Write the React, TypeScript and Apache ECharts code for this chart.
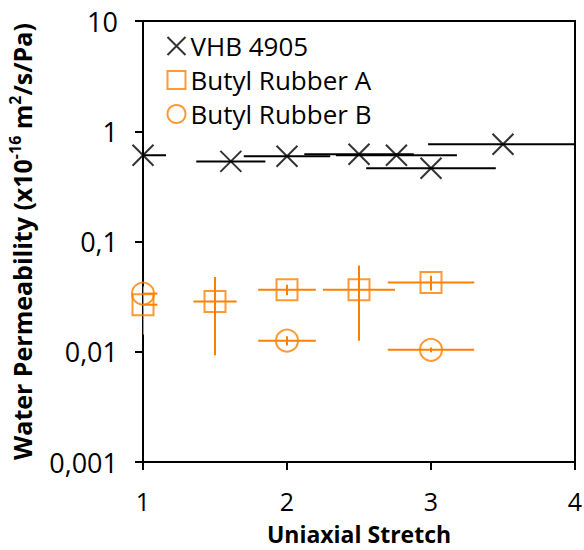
import React, { useEffect, useRef } from "react";
import * as echarts from "echarts";

// VHB 4905
const vhbX = [1, 1.61, 2, 2.5, 2.76, 3, 3.5];
const vhbY = [0.605, 0.533, 0.593, 0.618, 0.605, 0.461, 0.762];
const vhbXErr = [0.16, 0.24, 0.3, 0.38, 0.42, 0.45, 0.52];
const vhbYErr = [0, 0, 0, 0, 0, 0, 0];

// Butyl Rubber A
const butylAX = [1, 1.5, 2, 2.5, 3];
const butylAY = [0.0267, 0.0285, 0.0366, 0.0366, 0.0424];
const butylAXErr = [0.1, 0.15, 0.2, 0.25, 0.3];
const butylAYErr = [0.0124, 0.0192, 0.004, 0.024, 0.0064];

// Butyl Rubber B
const butylBX = [1, 2, 3];
const butylBY = [0.0337, 0.0126, 0.0104];
const butylBXErr = [0.1, 0.2, 0.3];
const butylBYErr = [0.002, 0.0012, 0.0005];

const yTickLabels: Record<string, string> = {
  "10": "10",
  "1": "1",
  "0.1": "0,1",
  "0.01": "0,01",
  "0.001": "0,001",
};

const ORANGE = "#FF8000";
const BLACK = "#000000";
const FONT = "'Open Sans', sans-serif";

function pts(xs: number[], ys: number[]) {
  return xs.map((x, i) => [x, ys[i]]);
}
function errPts(xs: number[], ys: number[], xe: number[], ye: number[]) {
  return xs.map((x, i) => [x, ys[i], xe[i], ye[i]]);
}

function errorSeries(data: number[][], color: string) {
  return {
    type: "custom",
    clip: true,
    silent: true,
    encode: { x: 0, y: 1 },
    data,
    z: 3,
    renderItem: (params: any, api: any) => {
      const x = api.value(0);
      const y = api.value(1);
      const xe = api.value(2);
      const ye = api.value(3);
      const children: any[] = [];
      const p1 = api.coord([x - xe, y]);
      const p2 = api.coord([x + xe, y]);
      children.push({
        type: "line",
        shape: { x1: p1[0], y1: p1[1], x2: p2[0], y2: p2[1] },
        style: { stroke: color, lineWidth: 2 },
      });
      if (ye > 0) {
        const q1 = api.coord([x, y - ye]);
        const q2 = api.coord([x, y + ye]);
        children.push({
          type: "line",
          shape: { x1: q1[0], y1: q1[1], x2: q2[0], y2: q2[1] },
          style: { stroke: color, lineWidth: 2 },
        });
      }
      return { type: "group", children };
    },
  };
}

export default function App() {
  const ref = useRef<HTMLDivElement>(null);
  useEffect(() => {
    document.body.style.margin = "0";
    if (!ref.current) return;
    const chart = echarts.init(ref.current, undefined, { renderer: "svg" });
    chart.setOption({
      animation: false,
      backgroundColor: "#ffffff",
      grid: {
        left: 143,
        right: 9,
        top: 21,
        bottom: 88,
        containLabel: false,
        outerBoundsMode: "none",
        show: true,
        borderColor: BLACK,
        borderWidth: 2,
        backgroundColor: "transparent",
      },
      legend: {
        left: 160,
        top: 28,
        orient: "vertical",
        itemWidth: 18,
        itemHeight: 18,
        itemGap: 8,
        data: ["VHB 4905", "Butyl Rubber A", "Butyl Rubber B"],
        textStyle: { fontFamily: FONT, fontSize: 26, color: BLACK },
      },
      xAxis: {
        type: "value",
        min: 1,
        max: 4,
        interval: 1,
        name: "Uniaxial Stretch",
        nameLocation: "middle",
        nameGap: 61,
        nameTextStyle: { fontFamily: FONT, fontSize: 23, fontWeight: "bold", color: BLACK, lineHeight: 22 },
        axisLine: { show: true, lineStyle: { color: BLACK, width: 2 } },
        axisTick: { show: true, inside: false, length: 8, lineStyle: { color: BLACK, width: 2 } },
        axisLabel: { fontFamily: FONT, fontSize: 25, lineHeight: 25, color: BLACK, margin: 26 },
        splitLine: { show: false },
      },
      yAxis: {
        type: "log",
        logBase: 10,
        min: 0.001,
        max: 10,
        name: "{n|Water Permeability (x10}{s|-16}{n| m}{s|2}{n|/s/Pa)}",
        nameLocation: "middle",
        nameGap: 106,
        nameRotate: 90,
        nameTextStyle: {
          fontFamily: FONT,
          color: BLACK,
          rich: {
            n: { fontFamily: FONT, fontSize: 25, fontWeight: "bold", color: BLACK, lineHeight: 30 },
            s: { fontFamily: FONT, fontSize: 16, fontWeight: "bold", color: BLACK, verticalAlign: "top", lineHeight: 30 },
          },
        },
        axisLine: { show: true, lineStyle: { color: BLACK, width: 2 } },
        axisTick: { show: true, inside: false, length: 8, lineStyle: { color: BLACK, width: 2 } },
        minorTick: { show: false },
        axisLabel: {
          fontFamily: FONT,
          fontSize: 27,
          color: BLACK,
          margin: 25,
          formatter: (v: number) => {
            const key = String(Number(v.toPrecision(6)));
            return yTickLabels[key] ?? String(v).replace(".", ",");
          },
        },
        splitLine: { show: false },
      },
      series: [
        errorSeries(errPts(vhbX, vhbY, vhbXErr, vhbYErr), BLACK),
        errorSeries(errPts(butylAX, butylAY, butylAXErr, butylAYErr), ORANGE),
        errorSeries(errPts(butylBX, butylBY, butylBXErr, butylBYErr), ORANGE),
        {
          name: "VHB 4905",
          type: "scatter",
          clip: false,
          z: 4,
          symbol: "path://M0,0L20,20M20,0L0,20",
          symbolSize: 21,
          itemStyle: { color: "none", borderColor: BLACK, borderWidth: 2 },
          data: pts(vhbX, vhbY),
        },
        {
          name: "Butyl Rubber A",
          type: "scatter",
          clip: false,
          z: 4,
          symbol: "rect",
          symbolSize: 21,
          itemStyle: { color: "transparent", borderColor: ORANGE, borderWidth: 2 },
          data: pts(butylAX, butylAY),
        },
        {
          name: "Butyl Rubber B",
          type: "scatter",
          clip: false,
          z: 4,
          symbol: "circle",
          symbolSize: 22,
          itemStyle: { color: "transparent", borderColor: ORANGE, borderWidth: 2 },
          data: pts(butylBX, butylBY),
        },
      ],
    });
    return () => chart.dispose();
  }, []);
  return <div ref={ref} style={{ width: 584, height: 550 }} />;
}
